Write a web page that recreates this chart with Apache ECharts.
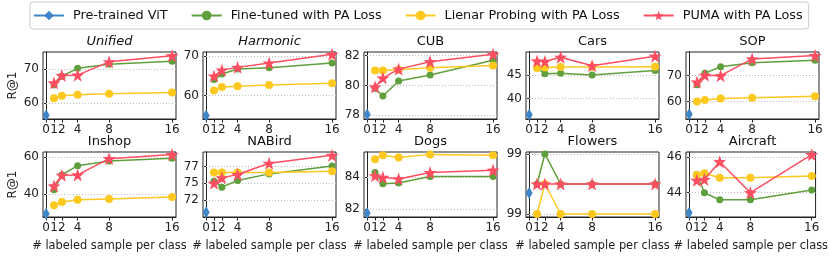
<!DOCTYPE html>
<html>
<head>
<meta charset="utf-8">
<script src="https://cdn.jsdelivr.net/npm/echarts@6/dist/echarts.min.js"></script>
<style>html,body{margin:0;padding:0;background:#fff}#c{width:830px;height:257px}</style>
</head>
<body>
<div id="c"></div>
<script>
const xTicks = [0, 1, 2, 4, 8, 16];
const xs = [1, 2, 4, 8, 16];
const panels = ['Unified', 'Harmonic', 'CUB', 'Cars', 'SOP', 'Inshop', 'NABird', 'Dogs', 'Flowers', 'Aircraft'];
const italicPanels = ['Unified', 'Harmonic'];
const methods = ['Pre-trained ViT', 'Fine-tuned with PA Loss', 'Lienar Probing with PA Loss', 'PUMA with PA Loss'];
const pretrained = [56.5, 55.0, 78.05, 36.6, 55.0, 29.5, 70.6, 81.75, 99.14, 42.87];
const fineTuned = [
  [65.4, 68.0, 70.3, 71.5, 72.4],
  [64.1, 65.5, 66.8, 67.1, 68.3],
  [79.8, 79.3, 80.3, 80.7, 81.7],
  [46.5, 45.3, 45.4, 45.0, 46.0],
  [66.5, 71.0, 73.5, 75.0, 76.0],
  [42.5, 50.5, 55.5, 58.0, 59.5],
  [75.3, 74.4, 75.4, 76.4, 77.6],
  [84.3, 83.6, 83.65, 84.05, 84.05],
  [99.2, 99.4, 99.2, 99.2, 99.2],
  [45.05, 44.0, 43.6, 43.6, 44.15]
];
const linearProbing = [
  [61.5, 62.2, 62.5, 62.8, 63.2],
  [61.3, 62.2, 62.4, 62.7, 63.2],
  [81.0, 81.0, 81.05, 81.2, 81.35],
  [46.5, 46.6, 46.7, 46.7, 46.8],
  [60.0, 60.6, 61.2, 61.4, 62.0],
  [34.0, 35.8, 37.0, 37.5, 38.5],
  [76.6, 76.6, 76.6, 76.6, 76.8],
  [85.15, 85.4, 85.25, 85.45, 85.4],
  [99.0, 99.2, 99.0, 99.0, 99.0],
  [45.0, 45.1, 44.85, 44.85, 44.95]
];
const puma = [
  [66.0, 68.2, 68.3, 72.2, 74.0],
  [65.0, 66.5, 67.2, 68.3, 70.5],
  [79.9, 80.5, 81.1, 81.6, 82.1],
  [48.0, 47.9, 48.8, 47.0, 49.0],
  [67.5, 70.2, 70.0, 76.5, 77.8],
  [44.5, 50.3, 50.5, 59.3, 61.5],
  [75.0, 75.8, 76.3, 78.0, 79.2],
  [84.1, 84.0, 83.9, 84.3, 84.45],
  [99.2, 99.2, 99.2, 99.2, 99.2],
  [44.7, 44.75, 45.75, 44.0, 46.15]
];
const yTicks = [[60, 70], [60, 70], [78, 80, 82], [40, 45], [60, 70], [40, 60], [72.5, 75, 77.5], [82, 84], [99.0, 99.4], [44, 46]];
const yMin = [55.4, 54.1, 77.75, 35.7, 53.2, 27.7, 69.9, 81.5, 98.98, 42.63];
const yMax = [75.1, 71.1, 82.25, 49.9, 79.2, 62.9, 79.7, 85.6, 99.413, 46.3];

const FONT = 'DejaVu Sans';
const colors = ['#3d85c6', '#5f9f3c', '#ffc81e', '#ff4d61'];
const lefts = [43, 203, 364, 526, 686];
const tops = [52, 152];
const W = 133, H = [67, 65];

const grid = [], xAxis = [], yAxis = [], series = [], title = [];
panels.forEach((name, i) => {
  const r = Math.floor(i / 5), c = i % 5;
  grid.push({left: lefts[c], top: tops[r], width: W, height: H[r], show: true, borderColor: '#222', borderWidth: 1, containLabel: false});
  title.push({
    text: name, left: lefts[c] + W / 2, top: tops[r] - 17, textAlign: 'center', padding: 0,
    textStyle: {fontFamily: FONT, fontSize: 13, fontWeight: 'normal', color: '#111', fontStyle: italicPanels.includes(name) ? 'italic' : 'normal'}
  });
  xAxis.push({
    type: 'value', gridIndex: i, min: -0.4, max: 16.5,
    axisLine: {show: true, lineStyle: {color: '#222'}},
    axisTick: {show: true, length: 3.5, customValues: xTicks, lineStyle: {color: '#222'}},
    axisLabel: {customValues: xTicks, fontFamily: FONT, fontSize: 12, color: '#222', margin: 5,
      showMinLabel: true, showMaxLabel: true, hideOverlap: false},
    splitLine: {show: false},
    name: r === 1 ? '# labeled sample per class' : '', nameLocation: 'middle', nameGap: 24,
    nameTextStyle: {fontFamily: FONT, fontSize: 11.4, color: '#222'}
  });
  yAxis.push({
    type: 'value', gridIndex: i, min: yMin[i], max: yMax[i],
    axisLine: {show: true, lineStyle: {color: '#222'}},
    axisTick: {show: true, length: 3.5, customValues: yTicks[i], lineStyle: {color: '#222'}},
    axisLabel: {customValues: yTicks[i], fontFamily: FONT, fontSize: 12, color: '#222', margin: 4,
      formatter: v => String(Math.floor(v + 1e-9))},
    splitLine: {show: false},
    name: c === 0 ? 'R@1' : '', nameLocation: 'middle', nameGap: 24, nameRotate: 90,
    nameTextStyle: {fontFamily: FONT, fontSize: 12, color: '#222'}
  });
  series.push({
    name: methods[0], type: 'line', xAxisIndex: i, yAxisIndex: i,
    data: [[0, pretrained[i]]], symbol: 'diamond', symbolSize: [7, 12],
    itemStyle: {color: colors[0]}, lineStyle: {color: colors[0], width: 1.5}, z: 3,
    markLine: {silent: true, symbol: 'none', label: {show: false},
      lineStyle: {color: '#bbb', type: [1, 2], width: 1}, z: 1,
      data: yTicks[i].map(t => ({yAxis: t}))}
  });
  [[fineTuned, 1, 'circle', 7], [linearProbing, 2, 'circle', 8], [puma, 3, 'path://M0,-10 L2.35,-3.24 L9.51,-3.09 L3.80,1.24 L5.88,8.09 L0,4 L-5.88,8.09 L-3.80,1.24 L-9.51,-3.09 L-2.35,-3.24 Z', 13]].forEach(([arr, k, sym, sz]) => {
    series.push({
      name: methods[k], type: 'line', xAxisIndex: i, yAxisIndex: i,
      data: xs.map((x, j) => [x, arr[i][j]]), symbol: sym, symbolSize: sz, showSymbol: true,
      itemStyle: {color: colors[k]}, lineStyle: {color: colors[k], width: 1.5}, z: 3 + k
    });
  });
});

const chart = echarts.init(document.getElementById('c'), null, {renderer: 'canvas'});
chart.setOption({
  animation: false,
  title,
  legend: {
    data: methods, left: 30, top: 2, orient: 'horizontal',
    itemWidth: 30, itemHeight: 12, itemGap: 23,
    padding: [7, 6, 7, 3], borderColor: '#ccc', borderWidth: 1, borderRadius: 3,
    textStyle: {fontFamily: FONT, fontSize: 12.8, color: '#111', padding: [0, 0, 0, 4]}
  },
  grid, xAxis, yAxis, series
});
</script>
</body>
</html>
